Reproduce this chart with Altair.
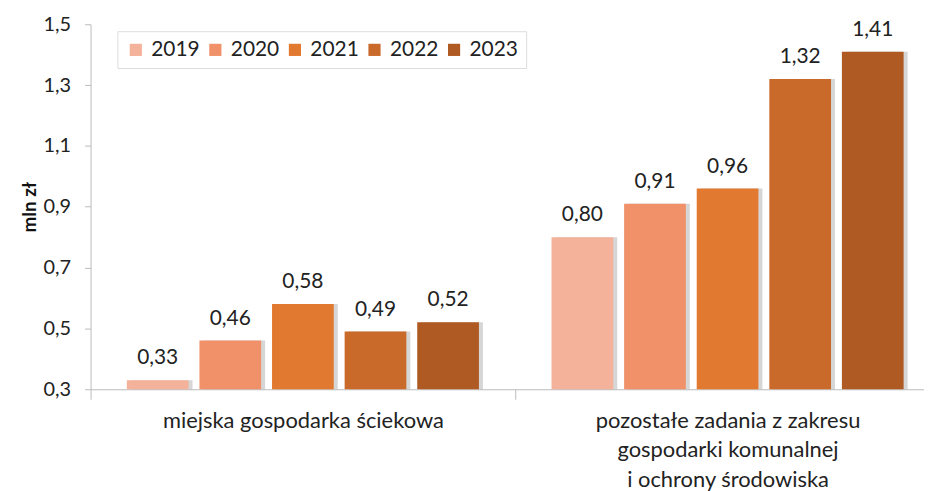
import altair as alt
import pandas as pd

categories = ["miejska gospodarka ściekowa",
              "pozostałe zadania z zakresu|gospodarki komunalnej|i ochrony środowiska"]
years = ["2019", "2020", "2021", "2022", "2023"]
values_sciek = [0.33, 0.46, 0.58, 0.49, 0.52]
values_other = [0.80, 0.91, 0.96, 1.32, 1.41]
colors = ["#F4B29B", "#F0916A", "#E27931", "#C9692A", "#AF5A23"]

rows = []
for cat, vals in zip(categories, [values_sciek, values_other]):
    for y, v in zip(years, vals):
        rows.append({"cat": cat, "year": y, "value": v, "base": 0.3,
                     "label": f"{v:.2f}".replace(".", ",")})
df = pd.DataFrame(rows)

FONT = "Lato"

x = alt.X("cat:N", sort=categories, title=None,
          scale=alt.Scale(range=[0, 854], paddingInner=0, paddingOuter=0),
          axis=alt.Axis(labelExpr="split(datum.label, '|')", labelAngle=0,
                        labelFontSize=22, labelLineHeight=30, labelPadding=11,
                        labelLimit=0, labelColor="#222", tickBand="extent", tickSize=10,
                        domainColor="#BBBBBB", tickColor="#BBBBBB", labelFont=FONT))
xo = alt.XOffset("year:N", sort=years,
                 scale=alt.Scale(paddingInner=0.15, paddingOuter=0.5))
xo_shadow = alt.XOffset("year:N", sort=years,
                        scale=alt.Scale(paddingInner=0.15, paddingOuter=0.5,
                                        range=[4, 431]))
y = alt.Y("value:Q", title="mln zł",
          scale=alt.Scale(domain=[0.3, 1.5], zero=False, nice=False),
          axis=alt.Axis(values=[0.3, 0.5, 0.7, 0.9, 1.1, 1.3, 1.5],
                        labelExpr="replace(format(datum.value, '.1f'), '.', ',')",
                        grid=False, tickSize=6, labelPadding=14, labelFontSize=20,
                        labelColor="#222", labelFont=FONT,
                        domainColor="#BBBBBB", tickColor="#BBBBBB",
                        titleFontSize=19, titleFontWeight="bold", titleFont=FONT,
                        titleColor="#111", titlePadding=4))
color = alt.Color("year:N", sort=years,
                  scale=alt.Scale(domain=years, range=colors),
                  legend=alt.Legend(title=None, orient="none", legendX=27, legendY=7,
                                    direction="horizontal", columns=5,
                                    symbolType="square", symbolSize=150,
                                    symbolStrokeWidth=0, labelFontSize=21,
                                    labelFont=FONT, labelColor="#222",
                                    labelOffset=5,
                                    fillColor="white", strokeColor="#DDDDDD",
                                    padding=8, columnPadding=5, symbolOffset=0))

base = alt.Chart(df)
shadow = base.mark_bar(color="#777777", opacity=0.3).encode(
    x=x, xOffset=xo_shadow, y=y, y2="base:Q")
bars = base.mark_bar().encode(x=x, xOffset=xo, y=y, y2="base:Q", color=color)
text = base.mark_text(baseline="bottom", dy=-12, fontSize=21, font=FONT,
                      color="#222").encode(x=x, xOffset=xo, y=y, text="label:N")

front = alt.layer(bars, text)
chart = alt.layer(shadow, front).resolve_scale(xOffset="independent").properties(
    width=838, height=367,
    autosize=alt.AutoSizeParams(type="none"),
    padding={"left": 83, "top": 15, "right": 0, "bottom": 110},
).configure_view(stroke=None)

chart.save("out.html", embed_options={"renderer": "svg", "actions": False})
